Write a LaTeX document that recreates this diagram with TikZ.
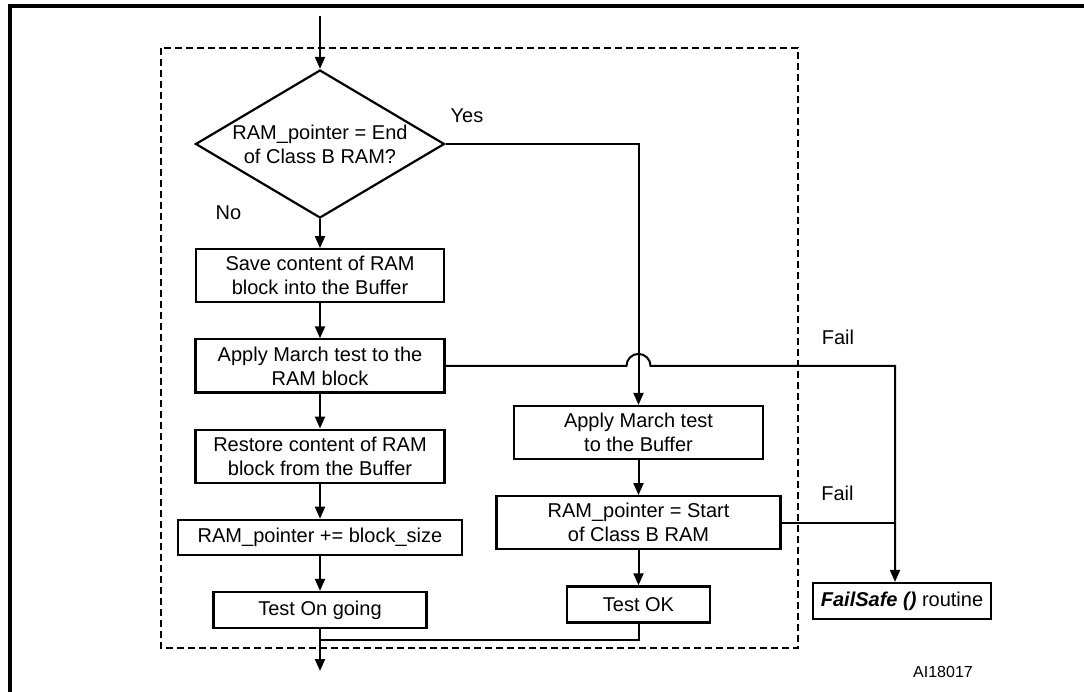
\documentclass[tikz,border=0pt]{standalone}
\usepackage{fontspec}
\setmainfont{Liberation Sans}
\usetikzlibrary{shapes.geometric, arrows.meta, positioning}

\begin{document}
\begin{tikzpicture}[x=1pt, y=-1pt, node distance=35pt, >={Triangle[length=12pt,width=10pt]},
        font=\fontsize{20}{24}\selectfont, line width=2pt,
        stepbox/.style={draw, rectangle, line width=2.2pt, minimum height=53pt, align=center, inner sep=0pt},
        testbox/.style={stepbox, minimum height=36pt},
        decision/.style={draw, diamond, line width=2.2pt, aspect=1.68, minimum width=249pt, minimum height=148pt, align=center, inner sep=0pt}]
        \useasboundingbox (0,0) rectangle (1084,692);

        % outer frame and dashed test loop
        \draw [line width=3.2pt] (10,692) -- (10,6) -- (1084,6);
        \draw [dash pattern=on 7pt off 4pt] (161,48) rectangle (798,648);

        \node [decision] (check) at (320,144) {RAM\_pointer = End\\of Class B RAM?};

        \node [stepbox, minimum width=248pt, below=29pt of check] (save) {Save content of RAM\\block into the Buffer};
        \node [stepbox, minimum width=249pt, below=of save] (marchram) {Apply March test to the\\RAM block};
        \node [stepbox, minimum width=249pt, below=of marchram] (restore) {Restore content of RAM\\block from the Buffer};
        \node [stepbox, minimum width=284pt, minimum height=35pt, below=of restore] (advance) {RAM\_pointer += block\_size};
        \node [testbox, minimum width=213pt, below=of advance] (ongoing) {Test On going};

        \node [stepbox, minimum width=249pt] (marchbuf) at (638.5,432.5) {Apply March test\\to the Buffer};
        \node [stepbox, minimum width=284pt, below=of marchbuf] (rewind) {RAM\_pointer = Start\\of Class B RAM};
        \node [testbox, minimum width=143pt, below=of rewind] (passed) {Test OK};

        \node [testbox, minimum width=178pt] (failsafe) at (902,601) {\textbf{\textit{FailSafe ()}} routine};

        \node (yes) at (467,116) {Yes};
        \node (no) at (228.5,212.5) {No};
        \node (failram) at (838,337) {Fail};
        \node (failbuf) at (837.5,493) {Fail};
        \node [font=\fontsize{16}{19}\selectfont] (figid) at (943,672) {AI18017};

        \coordinate (entry) at (320,16);
        \coordinate (exit) at (320,671);
        \coordinate (merge) at (320,640);
        \coordinate (hop) at (marchbuf.north |- marchram.east);
        \coordinate (failin) at ([xshift=-7pt]failsafe.north);

        \draw [->] (entry) -- (check);
        \draw [->] (check) -- (save);
        \draw [->] (save) -- (marchram);
        \draw [->] (marchram) -- (restore);
        \draw [->] (restore) -- (advance);
        \draw [->] (advance) -- (ongoing);
        \draw [->] (ongoing) -- (exit);

        % Yes branch
        \draw [->] (check.east) -| (marchbuf.north);
        \draw [->] (marchbuf) -- (rewind);
        \draw [->] (rewind) -- (passed);
        \draw (passed.south) |- (merge);

        % Fail paths, hopping over the Yes branch
        \draw [->] (marchram.east) -- ([xshift=-12pt]hop) arc [start angle=180, end angle=0, radius=12pt] -| (failin);
        \draw (rewind.east) -- (rewind.east -| failin);
    \end{tikzpicture}
\end{document}
